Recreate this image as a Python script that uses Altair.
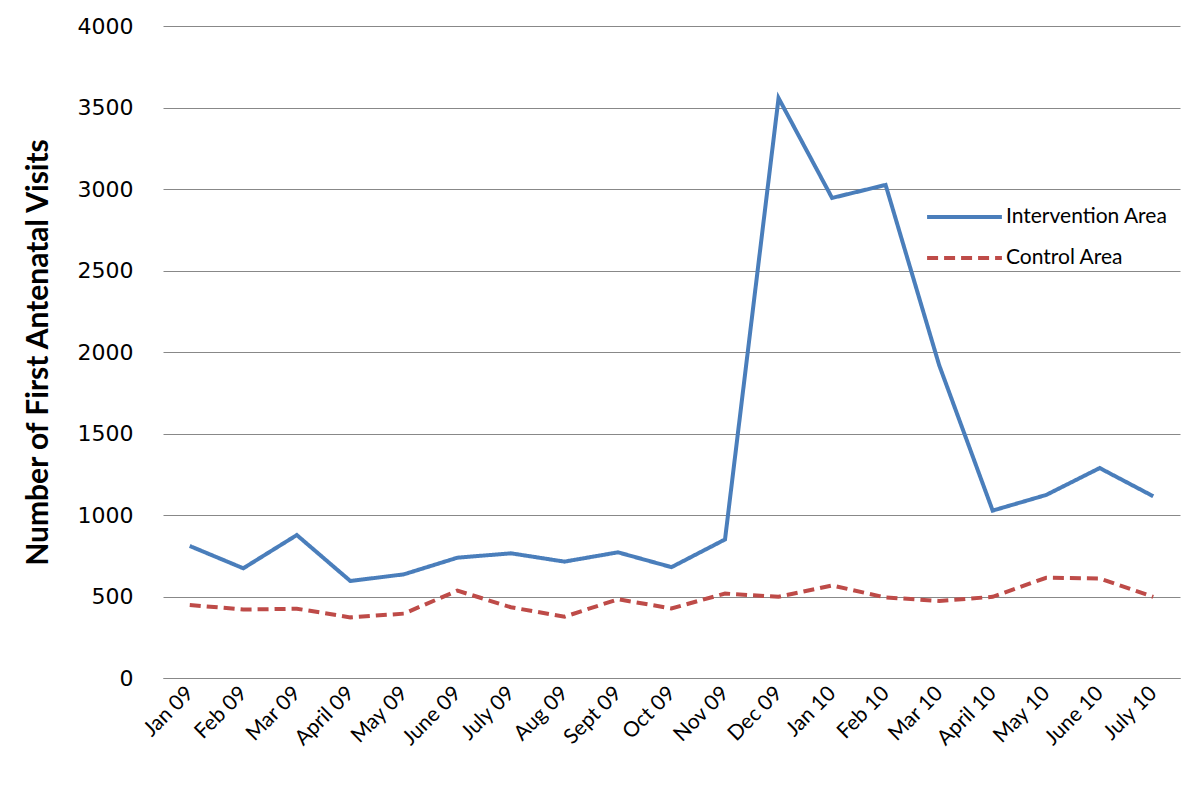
import altair as alt
import pandas as pd

months = ["Jan 09", "Feb 09", "Mar 09", "April 09", "May 09", "June 09", "July 09",
          "Aug 09", "Sept 09", "Oct 09", "Nov 09", "Dec 09", "Jan 10", "Feb 10",
          "Mar 10", "April 10", "May 10", "June 10", "July 10"]
intervention = [810, 673, 877, 595, 636, 738, 765, 714, 771, 680, 850, 3558, 2945,
                3025, 1920, 1027, 1123, 1288, 1115]
control = [448, 420, 425, 372, 395, 536, 434, 376, 483, 427, 518, 498, 568, 494,
           473, 498, 615, 611, 498]
series = ["Intervention Area", "Control Area"]
y_ticks = [0, 500, 1000, 1500, 2000, 2500, 3000, 3500, 4000]

rows = []
for m, a, b in zip(months, intervention, control):
    rows.append({"month": m, "series": series[0], "value": a})
    rows.append({"month": m, "series": series[1], "value": b})
df = pd.DataFrame(rows)

FONT = "DejaVu Sans"

chart = alt.Chart(df).mark_line(strokeWidth=4).encode(
    x=alt.X("month:O", sort=months, title=None,
            scale=alt.Scale(padding=0.5),
            axis=alt.Axis(labelAngle=-45, labelAlign="right", labelBaseline="middle",
                          labelFontSize=21, labelFont="Lato", labelColor="#000",
                          labelPadding=12, ticks=False, domain=True, grid=False,
                          domainColor="#888", domainWidth=1)),
    y=alt.Y("value:Q", title="Number of First Antenatal Visits",
            scale=alt.Scale(domain=[0, 4000], nice=False),
            axis=alt.Axis(values=y_ticks, format="d", grid=True, gridColor="#888",
                          gridWidth=1, domain=False, ticks=False, labelPadding=30,
                          labelFontSize=22, labelFont=FONT, labelColor="#000",
                          titleFont="Lato", titleFontSize=30, titleFontWeight="bold",
                          titleColor="#000", titlePadding=24)),
    color=alt.Color("series:N", sort=series, title=None,
                    scale=alt.Scale(domain=series, range=["#4A7EBB", "#BE4B48"]),
                    legend=alt.Legend(orient="none", legendX=762, legendY=180,
                                      symbolType="stroke", symbolSize=5600,
                                      symbolStrokeWidth=4, labelFont="Lato",
                                      labelFontSize=21, labelColor="#000",
                                      labelLimit=400,
                                      clipHeight=22, rowPadding=19, labelOffset=2)),
    strokeDash=alt.StrokeDash("series:N", sort=series, title=None,
                              scale=alt.Scale(domain=series, range=[[1, 0], [11, 6]])),
).properties(
    width=1017, height=652,
    autosize=alt.AutoSizeParams(type="none"),
    padding={"left": 155, "top": 18, "right": 12, "bottom": 90},
    background="white",
).configure_view(stroke=None)

chart.save("out.html", embed_options={"renderer": "svg", "actions": False})
